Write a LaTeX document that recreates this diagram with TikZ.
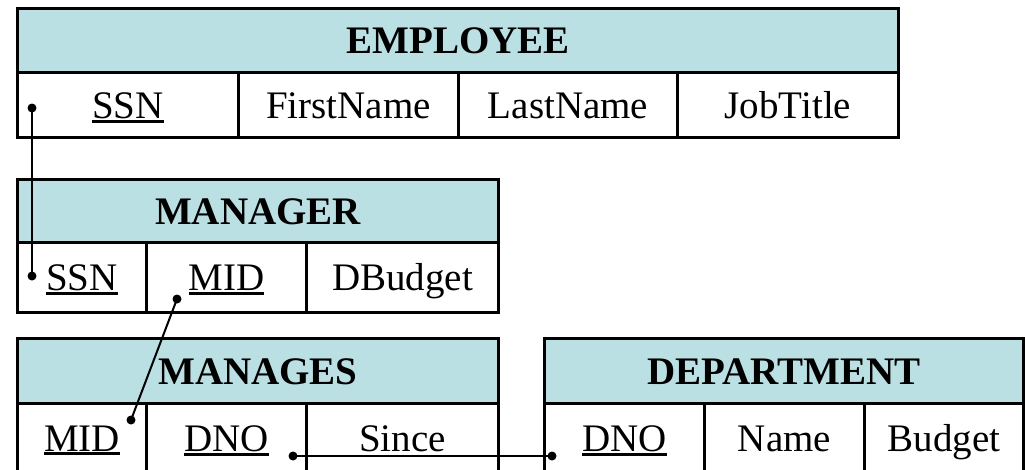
\documentclass[tikz,border=0pt]{standalone}
\usepackage{fontspec}
\setmainfont{Liberation Serif}

\definecolor{tablehead}{RGB}{186,224,227}
% key attributes get a heavy underline
\newcommand{\pkey}[1]{\vtop{\hbox{#1}\kern1.2pt\hrule height 3pt}}

\tikzset{
  cell/.style={draw,line width=3pt,rectangle,anchor=north west,inner sep=0pt,
    text height=30pt,text depth=4pt,font=\fontsize{39}{46}\selectfont},
  head/.style={cell,fill=tablehead,font=\fontsize{39}{46}\selectfont\bfseries},
  link/.style={line width=2pt}
}

\begin{document}
\begin{tikzpicture}[x=1pt,y=-1pt]
  \useasboundingbox (0,0) rectangle (1025,469);
  % EMPLOYEE
  \node[head,minimum width=881,minimum height=64] (employee) at (16,7) {EMPLOYEE};
  \node[cell,minimum width=221,minimum height=65] (emp-ssn) at (16,71) {\pkey{SSN}};
  \node[cell,minimum width=220,minimum height=65] (emp-first) at (237,71) {FirstName};
  \node[cell,minimum width=219,minimum height=65] (emp-last) at (457,71) {LastName};
  \node[cell,minimum width=221,minimum height=65] (emp-job) at (676,71) {JobTitle};
  % MANAGER
  \node[head,minimum width=481,minimum height=63] (manager) at (16,178) {MANAGER};
  \node[cell,minimum width=129,minimum height=70] (mgr-ssn) at (16,241) {\pkey{SSN}};
  \node[cell,minimum width=160,minimum height=70] (mgr-mid) at (145,241) {\pkey{MID}};
  \node[cell,minimum width=192,minimum height=70] (mgr-budget) at (305,241) {DBudget};
  % MANAGES
  \node[head,minimum width=481,minimum height=65] (manages) at (16,337) {MANAGES};
  \node[cell,minimum width=129,minimum height=69] (mgs-mid) at (16,402) {\pkey{MID}};
  \node[cell,minimum width=160,minimum height=69] (mgs-dno) at (145,402) {\pkey{DNO}};
  \node[cell,minimum width=192,minimum height=69] (mgs-since) at (305,402) {Since};
  % DEPARTMENT
  \node[head,minimum width=479,minimum height=65] (department) at (543,337) {DEPARTMENT};
  \node[cell,minimum width=160,minimum height=69] (dept-dno) at (543,402) {\pkey{DNO}};
  \node[cell,minimum width=160,minimum height=69] (dept-name) at (703,402) {Name};
  \node[cell,minimum width=159,minimum height=69] (dept-budget) at (863,402) {Budget};

  % foreign key links
  \coordinate (emp-ssn-key) at (32,108);
  \coordinate (mgr-ssn-key) at (32,276);
  \coordinate (mgr-mid-key) at (177,299);
  \coordinate (mgs-mid-key) at (131,420);
  \coordinate (mgs-dno-key) at (293,456);
  \coordinate (dept-dno-key) at (552,456);
  \draw[link] (emp-ssn-key) -- (mgr-ssn-key);
  \draw[link] (mgr-mid-key) -- (mgs-mid-key);
  \draw[link] (mgs-dno-key) -- (dept-dno-key);
  \foreach \k in {emp-ssn-key,mgr-ssn-key,mgr-mid-key,mgs-mid-key,mgs-dno-key,dept-dno-key}
    \fill (\k) circle (4.5);
\end{tikzpicture}
\end{document}
